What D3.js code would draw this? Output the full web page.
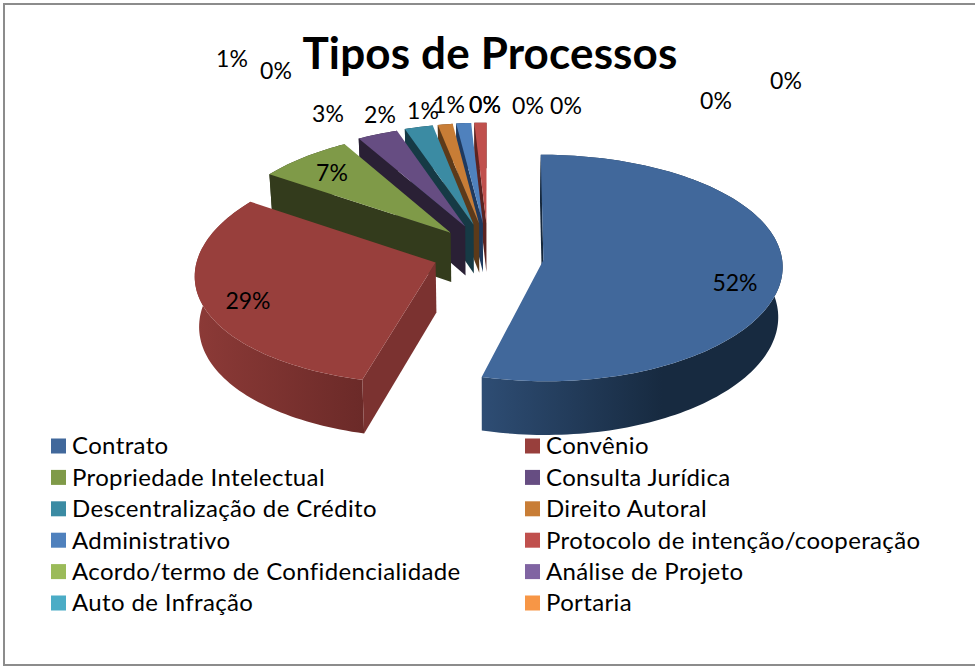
<!DOCTYPE html>
<meta charset="utf-8">
<body style="margin:0;background:#fff;">
<svg width="975" height="666"></svg>
<script src="https://d3js.org/d3.v7.min.js"></script>
<script>

var titulo = "Tipos de Processos";

var categorias = ["Contrato", "Convênio", "Propriedade Intelectual", "Consulta Jurídica",
	"Descentralização de Crédito", "Direito Autoral", "Administrativo", "Protocolo de intenção/cooperação",
	"Acordo/termo de Confidencialidade", "Análise de Projeto", "Auto de Infração", "Portaria"];

// the last ones are too thin to see
var valores = [52.49, 29.4, 6.9, 3.0, 2.1, 1.1, 1.1, 0.9, 0, 0, 0, 0];

var rotulos = ["52%", "29%", "7%", "3%", "2%", "1%", "1%", "1%", "0%", "0%", "0%", "0%", "0%", "0%", "0%"];

// labels were dragged around by hand in the original, so they get their own place
var rotuloX = [735, 248, 332, 328, 380, 423, 449, 232, 276, 485, 485, 528, 566, 716, 786];
var rotuloY = [283, 301, 173, 114, 115, 111, 105, 59, 71, 105, 105, 106, 106, 101, 81];

var coresLegenda = ["#41689b", "#983f3c", "#7f9a48", "#664d82", "#3b8ba3", "#c87d36",
	"#4f81bd", "#c0504d", "#9bbb59", "#8064a2", "#4bacc6", "#f79646"];
var coresParede = ["#16283c", "#7b3230", "#333b1c", "#2a2035", "#163a45", "#5c3a1a", "#1f3a5f", "#5c2320"];
var coresBordaClara = ["#2e4d74", "#8c3a37", "#333b1c", "#2a2035", "#163a45", "#5c3a1a", "#1f3a5f", "#5c2320"];
var coresBordaEscura = ["#172a40", "#6b2a28", "#333b1c", "#2a2035", "#163a45", "#5c3a1a", "#1f3a5f", "#5c2320"];

var svg = d3.select("svg");
var defs = svg.append("defs");

// frame, no right side in the picture
svg.append("path")
	.attr("d", d3.line()([[975, 4], [4, 4], [4, 665], [975, 665]]))
	.attr("fill", "none")
	.attr("stroke", "#8c8c8c")
	.attr("stroke-width", 2);

// fake 3d: world units are pie radii, y goes towards the viewer
var cx = 488, cy = 262, escalaX = 239, escalaY = 113;
var perspEsq = 0.10, perspDir = 0.05, perspY = 0.07;	// the original is not a clean perspective, left side shrinks more
var altura = 50, encolheBase = 0.015;
var explodeX = 0.234, explodeTras = 0.32, explodeFrente = 0.1, recuo = -0.03;

function projeta(x, y, z) {
	var wx = 1 - (x < 0 ? perspEsq : perspDir) * y;
	var wy = 1 - perspY * y;
	return [cx + escalaX * x / wx * (1 - encolheBase * z), cy + escalaY * y / wy + altura * z / wy];
}

var fatias = d3.pie().sort(null)(valores).filter(function(d) { return d.value > 0; });
fatias.forEach(function(d) {
	var meio = (d.startAngle + d.endAngle) / 2;
	var c = Math.cos(meio);
	d.ox = explodeX * Math.sin(meio);
	d.oy = recuo - (c > 0 ? explodeTras : explodeFrente) * c;
});

var linha = d3.line();

function pontosArco(d, z, inicio, fim) {
	var n = Math.max(2, Math.ceil((fim - inicio) * 40));
	return d3.range(n + 1).map(function(i) {
		var a = inicio + (fim - inicio) * i / n;
		return projeta(d.ox + Math.sin(a), d.oy - Math.cos(a), z);
	});
}

var ordem = fatias.slice().sort(function(a, b) { return a.oy - b.oy; });
var pizza = svg.append("g");

ordem.forEach(function(d) {
	var i = d.index;
	var grad = defs.append("linearGradient").attr("id", "borda" + i);
	grad.append("stop").attr("offset", "0%").attr("stop-color", coresBordaClara[i]);
	grad.append("stop").attr("offset", i == 0 ? "60%" : "100%").attr("stop-color", coresBordaEscura[i]);

	// outer rim
	var topo = pontosArco(d, 0, d.startAngle, d.endAngle);
	var base = pontosArco(d, 1, d.startAngle, d.endAngle);
	pizza.append("path")
		.attr("d", linha(topo.concat(base.reverse())) + "Z")
		.attr("fill", i == 0 ? "url(#borda0)" : (i == 1 ? "url(#borda1)" : coresParede[i]));

	// cut wall on the start side, the end side is never seen
	var centroTopo = projeta(d.ox, d.oy, 0), centroBase = projeta(d.ox, d.oy, 1);
	var paredeTopo = pontosArco(d, 0, d.startAngle, d.startAngle)[0];
	var paredeBase = pontosArco(d, 1, d.startAngle, d.startAngle)[0];
	pizza.append("path")
		.attr("d", linha([centroTopo, paredeTopo, paredeBase, centroBase]) + "Z")
		.attr("fill", coresParede[i]);

	// top face
	pizza.append("path")
		.attr("d", linha([centroTopo].concat(pontosArco(d, 0, d.startAngle, d.endAngle))) + "Z")
		.attr("fill", coresLegenda[i]);
});

var fonte = "Lato, 'Open Sans', sans-serif";

svg.append("text")
	.attr("x", 490)
	.attr("y", 69)
	.attr("text-anchor", "middle")
	.style("font-family", fonte)
	.style("font-weight", "bold")
	.style("font-size", "44px")
	.style("letter-spacing", "0.15px")
	.text(titulo);

svg.append("g").selectAll("text").data(rotulos).join("text")
	.attr("x", function(d, i) { return rotuloX[i]; })
	.attr("y", function(d, i) { return rotuloY[i]; })
	.attr("dy", "0.36em")
	.attr("text-anchor", "middle")
	.style("font-family", fonte)
	.style("font-size", "23px")
	.text(function(d) { return d; });

// legend, filled row by row
var linhaLegenda = d3.scalePoint().domain(d3.range(6)).range([446, 603]);
var colunaLegenda = d3.scalePoint().domain(d3.range(2)).range([51, 525]);

var itens = svg.append("g").selectAll("g").data(categorias).join("g")
	.attr("transform", function(d, i) {
		return "translate(" + colunaLegenda(i % 2) + "," + linhaLegenda(Math.floor(i / 2)) + ")";
	});
itens.append("rect")
	.attr("y", -7.5)
	.attr("width", 15)
	.attr("height", 15)
	.attr("fill", function(d, i) { return coresLegenda[i]; });
itens.append("text")
	.attr("x", 21)
	.attr("dy", "0.35em")
	.style("font-family", fonte)
	.style("font-size", "24px")
	.style("letter-spacing", "0.36px")
	.text(function(d) { return d; });

</script>
</body>
